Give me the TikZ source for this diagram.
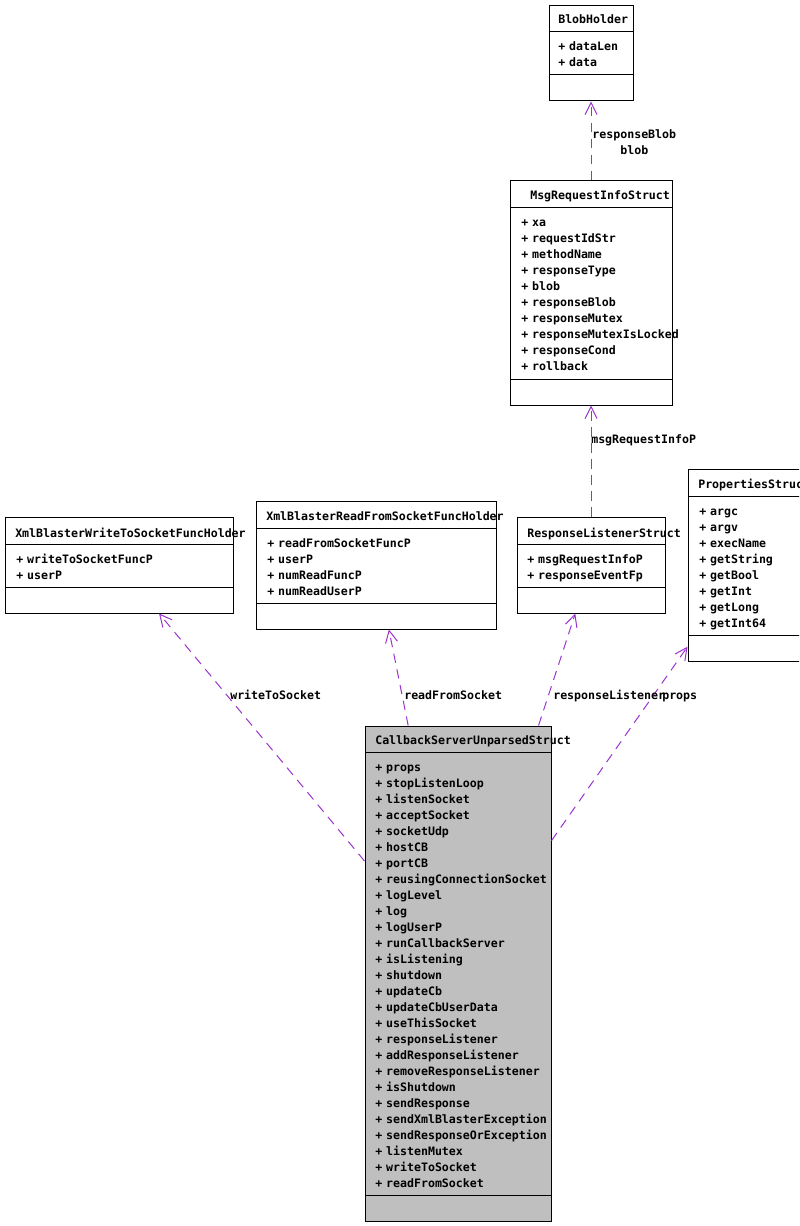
\documentclass[tikz,border=0pt]{standalone}
\usepackage{fontspec}
\setmonofont{DejaVu Sans Mono}
\usetikzlibrary{arrows.meta}
\definecolor{usopurpura}{HTML}{9A32CD}
\definecolor{gris}{HTML}{BFBFBF}
\begin{document}
\begin{tikzpicture}[
        x=0.75pt, y=-0.75pt,
        clase/.style={
            rectangle,
            draw=black,
            fill=white,
            line width=0.75pt,
            inner sep=0pt
        },
        texto/.style={
            anchor=base west,
            inner sep=0pt,
            font=\ttfamily\bfseries\fontsize{8.7}{12}\selectfont
        },
        lista/.style={texto, align=left, text width=170pt},
        sep/.style={line width=0.75pt},
        uso/.style={
            draw=usopurpura,
            line width=0.75pt,
            dash pattern=on 7pt off 5pt,
            -{Straight Barb[length=9pt,width=9pt]}
        }
    ]
    \clip (0,0) rectangle (799,1226);

    % Clases
    \node[clase, minimum width=63pt, minimum height=71.25pt] (blob) at (591,53.5) {};
    \node[clase, minimum width=121.5pt, minimum height=168pt] (msg) at (591,293) {};
    \node[clase, minimum width=171pt, minimum height=72pt] (wr) at (119,565) {};
    \node[clase, minimum width=180pt, minimum height=96pt] (rd) at (376,565) {};
    \node[clase, minimum width=111pt, minimum height=72pt] (rl) at (591,565) {};
    \node[clase, minimum width=85.5pt, minimum height=144pt] (props) at (745,565) {};
    \node[clase, fill=gris, minimum width=139.5pt, minimum height=371.25pt] (cb) at (458,973.5) {};

    % Separadores
    \draw[sep] (549,32) -- (633,32) (549,75) -- (633,75);
    \draw[sep] (510,208) -- (672,208) (510,379) -- (672,379);
    \draw[sep] (5,544) -- (233,544) (5,587) -- (233,587);
    \draw[sep] (256,528) -- (496,528) (256,603) -- (496,603);
    \draw[sep] (517,544) -- (665,544) (517,587) -- (665,587);
    \draw[sep] (688,496) -- (802,496) (688,635) -- (802,635);
    \draw[sep] (365,752) -- (551,752) (365,1195) -- (551,1195);

    % Nombres y atributos
    \node[texto] (blob-t) at (558,24) {BlobHolder};
    \node[lista] (blob-a) at (558,51) {+ dataLen\\+ data};

    \node[texto] (msg-t) at (530,200) {MsgRequestInfoStruct};
    \node[lista] (msg-a) at (521,227) {+ xa\\+ requestIdStr\\+ methodName\\+ responseType\\+ blob\\+ responseBlob\\+ responseMutex\\+ responseMutexIsLocked\\+ responseCond\\+ rollback};

    \node[texto] (wr-t) at (15,537) {XmlBlasterWriteToSocketFuncHolder};
    \node[lista] (wr-a) at (16,563) {+ writeToSocketFuncP\\+ userP};

    \node[texto] (rd-t) at (266,520) {XmlBlasterReadFromSocketFuncHolder};
    \node[lista] (rd-a) at (267,547) {+ readFromSocketFuncP\\+ userP\\+ numReadFuncP\\+ numReadUserP};

    \node[texto] (rl-t) at (527,537) {ResponseListenerStruct};
    \node[lista] (rl-a) at (527,563) {+ msgRequestInfoP\\+ responseEventFp};

    \node[texto] (props-t) at (698,488) {PropertiesStruct};
    \node[lista] (props-a) at (699,515) {+ argc\\+ argv\\+ execName\\+ getString\\+ getBool\\+ getInt\\+ getLong\\+ getInt64};

    \node[texto] (cb-t) at (375,744) {CallbackServerUnparsedStruct};
    \node[lista] (cb-a) at (375,771) {+ props\\+ stopListenLoop\\+ listenSocket\\+ acceptSocket\\+ socketUdp\\+ hostCB\\+ portCB\\+ reusingConnectionSocket\\+ logLevel\\+ log\\+ logUserP\\+ runCallbackServer\\+ isListening\\+ shutdown\\+ updateCb\\+ updateCbUserData\\+ useThisSocket\\+ responseListener\\+ addResponseListener\\+ removeResponseListener\\+ isShutdown\\+ sendResponse\\+ sendXmlBlasterException\\+ sendResponseOrException\\+ listenMutex\\+ writeToSocket\\+ readFromSocket};

    % Relaciones
    \draw[uso] (msg) -- (blob);
    \draw[uso] (rl) -- (msg);
    \draw[uso] (cb) -- (wr);
    \draw[uso] (cb) -- (rd);
    \draw[uso] (cb) -- (rl);
    \draw[uso] (cb) -- (props);

    % Etiquetas
    \node[texto, align=center, text width=63pt] (l-blob) at (592,139) {responseBlob\\blob};
    \node[texto] (l-msg) at (591,443) {msgRequestInfoP};
    \node[texto] (l-wr) at (230,699) {writeToSocket};
    \node[texto] (l-rd) at (404,699) {readFromSocket};
    \node[texto] (l-rl) at (553,699) {responseListener};
    \node[texto] (l-props) at (662,699) {props};

\end{tikzpicture}
\end{document}
